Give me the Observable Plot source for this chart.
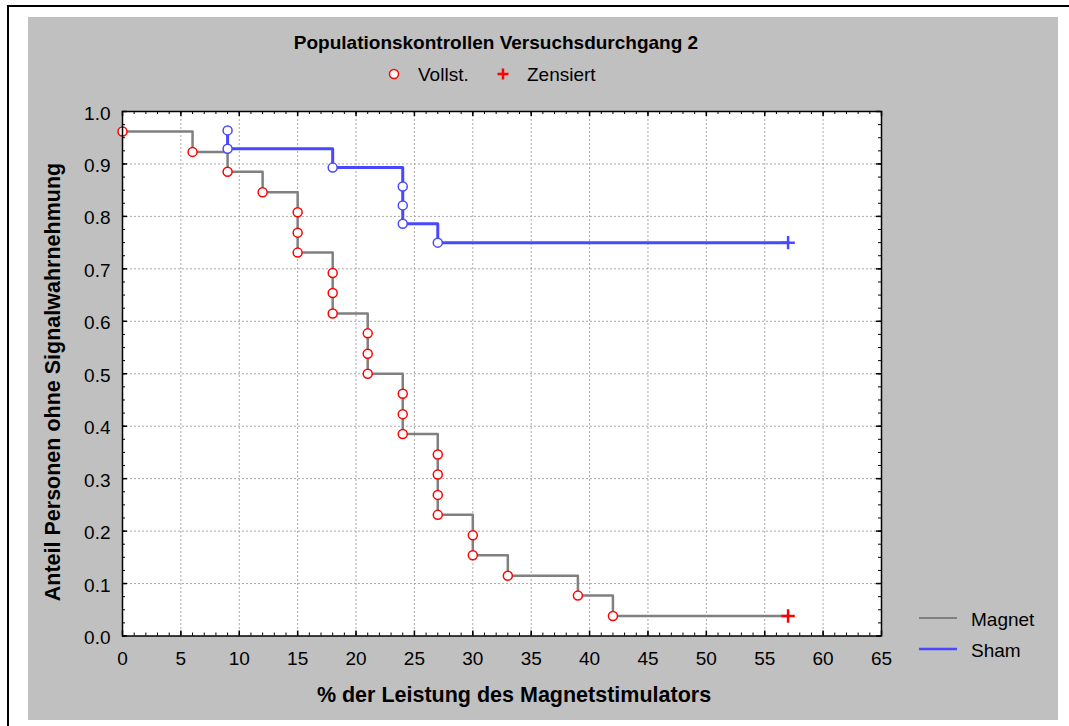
<!DOCTYPE html>
<html>
<head>
<meta charset="utf-8">
<script src="https://cdn.jsdelivr.net/npm/d3@7"></script>
<script src="https://cdn.jsdelivr.net/npm/@observablehq/plot@0.6"></script>
<style>
  html, body { margin: 0; padding: 0; background: #fff; }
  #wrap { position: relative; width: 1069px; height: 726px; overflow: hidden; font-family: "Liberation Sans", Arial, sans-serif; color: #000; }
  .abs { position: absolute; }
  .lbl { position: absolute; font-size: 19px; line-height: 19px; white-space: nowrap; transform: translateY(-50%); }
  .bold { font-weight: bold; }
</style>
</head>
<body>
<div id="wrap">
  <div class="abs" style="left:7px;top:5px;width:2px;height:721px;background:#000"></div>
  <div class="abs" style="left:7px;top:5px;width:1062px;height:2px;background:#000"></div>
  <div class="abs" style="left:28px;top:17px;width:1030px;height:703px;background:#c0c0c0"></div>
  <div id="chart" class="abs" style="left:0;top:0"></div>

  <div class="lbl bold" style="left:496px;top:42px;transform:translate(-50%,-50%)">Populationskontrollen Versuchsdurchgang 2</div>
  <svg class="abs" style="left:384px;top:64px" width="20" height="20"><circle cx="10" cy="10" r="4.5" fill="#fff" stroke="#ff0000" stroke-width="1.5"/></svg>
  <div class="lbl" style="left:418px;top:74px">Vollst.</div>
  <svg class="abs" style="left:493px;top:64px" width="20" height="20"><path d="M4.5,10H15.5M10,4.5V15.5" stroke="#ff0000" stroke-width="2.5" fill="none"/></svg>
  <div class="lbl" style="left:527px;top:74px">Zensiert</div>

  <div class="lbl bold" style="left:514px;top:695.5px;font-size:21.5px;line-height:21.5px;transform:translate(-50%,-50%)">% der Leistung des Magnetstimulators</div>
  <div class="lbl bold" style="left:53.5px;top:382px;font-size:21.5px;line-height:21.5px;transform:translate(-50%,-50%) rotate(-90deg)">Anteil Personen ohne Signalwahrnehmung</div>

  <svg class="abs" style="left:915px;top:608px" width="50" height="50">
    <line x1="4" x2="42" y1="10" y2="10" stroke="#808080" stroke-width="2"/>
    <line x1="4" x2="42" y1="41" y2="41" stroke="#4848ff" stroke-width="2.5"/>
  </svg>
  <div class="lbl" style="left:971px;top:619px">Magnet</div>
  <div class="lbl" style="left:971px;top:650px">Sham</div>
</div>
<script>
// ---- data ----
const xTickValues = [0, 5, 10, 15, 20, 25, 30, 35, 40, 45, 50, 55, 60, 65];
const yTickValues = [0, 0.1, 0.2, 0.3, 0.4, 0.5, 0.6, 0.7, 0.8, 0.9, 1.0];
const yTickLabels = ["0.0", "0.1", "0.2", "0.3", "0.4", "0.5", "0.6", "0.7", "0.8", "0.9", "1.0"];

// Magnet: completed observations (event times and survival proportion)
const magnetTimes = [0, 6, 9, 12, 15, 15, 15, 18, 18, 18, 21, 21, 21, 24, 24, 24, 27, 27, 27, 27, 30, 30, 33, 39, 42];
const magnetSurv  = [0.962, 0.923, 0.885, 0.846, 0.808, 0.769, 0.731, 0.692, 0.654, 0.615, 0.577, 0.538, 0.500,
                     0.462, 0.423, 0.385, 0.346, 0.308, 0.269, 0.231, 0.192, 0.154, 0.115, 0.077, 0.038];
const magnetCensTimes = [57];
const magnetCensSurv  = [0.038];

// Sham
const shamTimes = [9, 9, 18, 24, 24, 24, 27];
const shamSurv  = [0.964, 0.929, 0.893, 0.857, 0.821, 0.786, 0.750];
const shamCensTimes = [57];
const shamCensSurv  = [0.750];

const seriesNames = ["Magnet", "Sham"];
const lineColors = {Magnet: "#808080", Sham: "#4848ff"};
const markColors = {Magnet: "#ff0000", Sham: "#4848ff"};

// ---- build tables ----
const zip = (ts, ss, series) => ts.map((t, i) => ({t, s: ss[i], series}));
const magnetEvents = zip(magnetTimes, magnetSurv, "Magnet");
const shamEvents = zip(shamTimes, shamSurv, "Sham");
const magnetCens = zip(magnetCensTimes, magnetCensSurv, "Magnet");
const shamCens = zip(shamCensTimes, shamCensSurv, "Sham");
const magnetLine = magnetEvents.concat(magnetCens);
const shamLine = shamEvents.concat(shamCens);

const W = 1069, H = 726, mL = 122, mR = 188, mT = 111, mB = 90.5;
const plotW = W - mL - mR, plotH = H - mT - mB;
const minorX = d3.range(0, 66, 1);
const minorY = d3.range(0, 1.0001, 0.025);
const gridXVals = xTickValues.slice(1, -1);
const gridYVals = yTickValues.slice(1, -1);
const font = "'Liberation Sans', Arial, sans-serif";

const chart = Plot.plot({
  width: W, height: H,
  marginLeft: mL, marginRight: mR, marginTop: mT, marginBottom: mB,
  x: {domain: [0, 65]},
  y: {domain: [0, 1]},
  style: {background: "transparent", fontFamily: font, fontSize: "19px", color: "#000", overflow: "visible"},
  marks: [
    Plot.frame({fill: "#fff", stroke: null}),
    Plot.gridX({ticks: gridXVals, stroke: "#a8a8a8", strokeOpacity: 1, strokeWidth: 1, strokeDasharray: "2,2"}),
    Plot.gridY({ticks: gridYVals, stroke: "#a8a8a8", strokeOpacity: 1, strokeWidth: 1, strokeDasharray: "2,2"}),
    Plot.line(magnetLine, {x: "t", y: "s", curve: "step-after", stroke: lineColors.Magnet, strokeWidth: 2.5}),
    Plot.line(shamLine, {x: "t", y: "s", curve: "step-after", stroke: lineColors.Sham, strokeWidth: 3}),
    Plot.dot(magnetEvents, {x: "t", y: "s", r: 4.5, fill: "#fff", stroke: markColors.Magnet, strokeWidth: 1.5}),
    Plot.dot(shamEvents, {x: "t", y: "s", r: 4.5, fill: "#fff", stroke: markColors.Sham, strokeWidth: 1.5}),
    Plot.dot(magnetCens, {x: "t", y: "s", symbol: "plus", r: 4.4, stroke: markColors.Magnet, strokeWidth: 2.5}),
    Plot.dot(shamCens, {x: "t", y: "s", symbol: "plus", r: 4.4, stroke: markColors.Sham, strokeWidth: 2.5}),
    // inward ticks (bottom, top, left, right)
    Plot.tickX(minorX, {x: d => d, stroke: "#000", insetTop: plotH - 3}),
    Plot.tickX(minorX, {x: d => d, stroke: "#000", insetBottom: plotH - 3}),
    Plot.tickX(xTickValues, {x: d => d, stroke: "#000", strokeWidth: 1.5, insetTop: plotH - 5}),
    Plot.tickX(xTickValues, {x: d => d, stroke: "#000", strokeWidth: 1.5, insetBottom: plotH - 5}),
    Plot.tickY(minorY, {y: d => d, stroke: "#000", insetRight: plotW - 3}),
    Plot.tickY(minorY, {y: d => d, stroke: "#000", insetLeft: plotW - 3}),
    Plot.tickY(yTickValues, {y: d => d, stroke: "#000", strokeWidth: 1.5, insetRight: plotW - 5}),
    Plot.tickY(yTickValues, {y: d => d, stroke: "#000", strokeWidth: 1.5, insetLeft: plotW - 5}),
    Plot.frame({stroke: "#000", strokeWidth: 1.5}),
    Plot.axisX({ticks: xTickValues, tickSize: 0, tickPadding: 15, fontSize: 19, fill: "#000", tickFormat: d => String(d), label: null}),
    Plot.axisY({ticks: yTickValues, tickSize: 0, tickPadding: 12, fontSize: 19, fill: "#000", dy: 2,
                tickFormat: d => yTickLabels[yTickValues.findIndex(v => Math.abs(v - d) < 1e-9)], label: null})
  ]
});
document.getElementById("chart").appendChild(chart);
</script>
</body>
</html>
